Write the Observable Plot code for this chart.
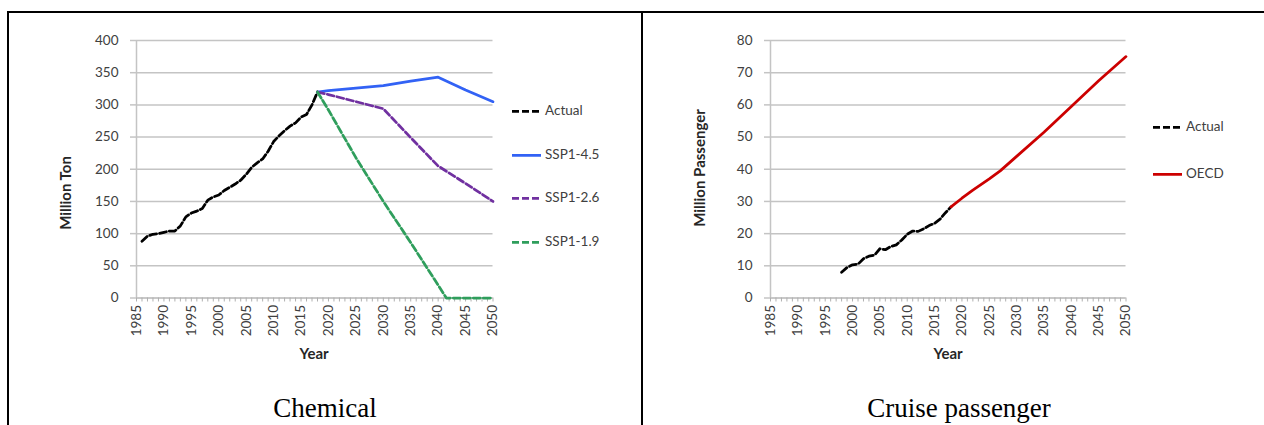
<!DOCTYPE html>
<html><head><meta charset="utf-8">
<script src="https://cdn.jsdelivr.net/npm/d3@7"></script>
<script src="https://cdn.jsdelivr.net/npm/@observablehq/plot@0.6"></script>
<style>
html,body{margin:0;padding:0;background:#fff;}
#wrap{position:relative;width:1264px;height:425px;overflow:hidden;font-family:Lato,sans-serif;background:#fff;}
.border{position:absolute;background:#000;z-index:5;}
.ytitle{position:absolute;font-weight:bold;font-size:15px;color:#262626;transform:translate(-50%,-50%) rotate(-90deg);white-space:nowrap;line-height:1;}
.xtitle{position:absolute;font-weight:bold;font-size:15px;color:#262626;transform:translate(-50%,-50%);white-space:nowrap;line-height:1;}
.caption{position:absolute;font-family:"Liberation Serif","Times New Roman",serif;font-size:27px;color:#000;transform:translate(-50%,-50%);white-space:nowrap;line-height:1;}
.legend-item{position:absolute;display:flex;align-items:center;font-size:13.5px;color:#404040;transform:translateY(-50%);white-space:nowrap;line-height:1;}
.legend-item svg{margin-right:4px;display:block;}
</style></head>
<body>
<div id="wrap"></div>
<script>
// ---- shared axis ticks ----
const labelYears = [1985,1990,1995,2000,2005,2010,2015,2020,2025,2030,2035,2040,2045,2050];
const minorYears = d3.range(1985, 2051);
const chemYTicks = [0,50,100,150,200,250,300,350,400];
const cruiseYTicks = [0,10,20,30,40,50,60,70,80];

// ---- Chemical (Million Ton) ----
const chemActualYears = [1986,1987,1988,1989,1990,1991,1992,1993,1994,1995,1996,1997,1998,1999,2000,2001,2002,2003,2004,2005,2006,2007,2008,2009,2010,2011,2012,2013,2014,2015,2016,2017,2018];
const chemActual = [88,96,99,100,102,104,104,112,126,132,135,139,152,157,160,167,172,177,183,192,203,210,216,228,243,252,260,267,272,281,285,300,320];
const ssp45Years = [2018,2020,2025,2030,2035,2040,2045,2050];
const ssp45 = [320,322,326,330,337,343,323,305];
const ssp26Years = [2018,2020,2025,2030,2035,2040,2045,2050];
const ssp26 = [320,316,305,294,249,205,178,150];
const ssp19Years = [2018,2020,2025,2030,2035,2040,2041.5,2045,2050];
const ssp19 = [320,292,218,150,86,20,0,0,0];

// ---- Cruise passenger (Million Passenger) ----
const cruiseActualYears = [1998,1999,2000,2001,2002,2003,2004,2005,2006,2007,2008,2009,2010,2011,2012,2013,2014,2015,2016,2017,2018];
const cruiseActual = [8,9.5,10.3,10.5,12.2,13,13.3,15.3,15,16,16.5,18,19.8,20.8,20.7,21.5,22.5,23.2,24.5,26.5,28.3];
const oecdYears = [2018,2020,2022,2025,2027,2030,2035,2040,2045,2050];
const oecd = [28.3,31,33.5,37,39.5,44,51.5,59.5,67.5,75];

const GRID = "#c4c4c4";
const DASH = "7,3";
const toRows = (xs, ys) => xs.map((x, i) => ({year: x, value: ys[i]}));

const wrap = document.getElementById("wrap");

function chart({width, mL, mR, yMax, yTicks, series}) {
  return Plot.plot({
    width, height: 370,
    marginLeft: mL, marginRight: mR, marginTop: 40, marginBottom: 72.5,
    style: {background: "transparent", fontFamily: "Lato, sans-serif", fontSize: "13.5px", color: "#404040", overflow: "visible"},
    x: {domain: [1985, 2050]},
    y: {domain: [0, yMax]},
    marks: [
      Plot.gridY(yTicks, {stroke: GRID, strokeOpacity: 1, strokeWidth: 1.5}),
      Plot.axisY(yTicks, {tickSize: 6, tickPadding: 12, stroke: GRID, strokeWidth: 1.5, label: null}),
      Plot.ruleX([1985], {stroke: GRID, strokeWidth: 1.5}),
      Plot.ruleY([0], {stroke: GRID, strokeWidth: 1.5}),
      Plot.axisX(minorYears, {tickSize: 4, stroke: "#b0b0b0", strokeWidth: 1, fill: "none", label: null}),
      Plot.axisX(labelYears, {tickSize: 0, tickPadding: 7, tickRotate: -90, tickFormat: d => String(d), label: null}),
      ...series.map(s => Plot.line(s.data, {x: "year", y: "value", stroke: s.color, strokeWidth: 2.75, strokeDasharray: s.dash ? DASH : null}))
    ]
  });
}

function place(el, left, top) {
  el.style.position = "absolute";
  el.style.left = left + "px";
  el.style.top = top + "px";
  wrap.appendChild(el);
}

const chemSeries = [
  {name: "Actual", color: "#000000", dash: true, data: toRows(chemActualYears, chemActual)},
  {name: "SSP1-4.5", color: "#3262f5", dash: false, data: toRows(ssp45Years, ssp45)},
  {name: "SSP1-2.6", color: "#7030a0", dash: true, data: toRows(ssp26Years, ssp26)},
  {name: "SSP1-1.9", color: "#2f9e5c", dash: true, data: toRows(ssp19Years, ssp19)}
];
const cruiseSeries = [
  {name: "Actual", color: "#000000", dash: true, data: toRows(cruiseActualYears, cruiseActual)},
  {name: "OECD", color: "#cc0000", dash: false, data: toRows(oecdYears, oecd)}
];

place(chart({width: 640, mL: 136, mR: 147.5, yMax: 400, yTicks: chemYTicks, series: chemSeries}), 0, 0);
place(chart({width: 624, mL: 130, mR: 138.5, yMax: 80, yTicks: cruiseYTicks, series: cruiseSeries}), 640, 0);

function addText(cls, text, x, y) {
  const d = document.createElement("div");
  d.className = cls;
  d.textContent = text;
  d.style.left = x + "px";
  d.style.top = y + "px";
  wrap.appendChild(d);
}
addText("ytitle", "Million Ton", 65, 193);
addText("ytitle", "Million Passenger", 699, 168);
addText("xtitle", "Year", 314, 353);
addText("xtitle", "Year", 948, 353);
addText("caption", "Chemical", 325, 408);
addText("caption", "Cruise passenger", 959, 408);

function legend(series, x, ys) {
  series.forEach((s, i) => {
    const d = document.createElement("div");
    d.className = "legend-item";
    d.style.left = x + "px";
    d.style.top = ys[i] + "px";
    const ns = "http://www.w3.org/2000/svg";
    const sv = document.createElementNS(ns, "svg");
    sv.setAttribute("width", 29); sv.setAttribute("height", 6);
    const ln = document.createElementNS(ns, "line");
    ln.setAttribute("x1", 0); ln.setAttribute("x2", 29);
    ln.setAttribute("y1", 3); ln.setAttribute("y2", 3);
    ln.setAttribute("stroke", s.color); ln.setAttribute("stroke-width", 2.75);
    if (s.dash) ln.setAttribute("stroke-dasharray", DASH);
    sv.appendChild(ln);
    d.appendChild(sv);
    const t = document.createElement("span");
    t.textContent = s.name;
    d.appendChild(t);
    wrap.appendChild(d);
  });
}
legend(chemSeries, 512, [111, 155, 198, 242]);
legend(cruiseSeries, 1153, [127, 174]);

// table frame lines
function border(l, t, w, h) {
  const d = document.createElement("div");
  d.className = "border";
  Object.assign(d.style, {left: l + "px", top: t + "px", width: w + "px", height: h + "px"});
  wrap.appendChild(d);
}
border(7, 11, 1257, 2);
border(7, 11, 2, 414);
border(641, 11, 2, 414);
</script>
</body></html>
